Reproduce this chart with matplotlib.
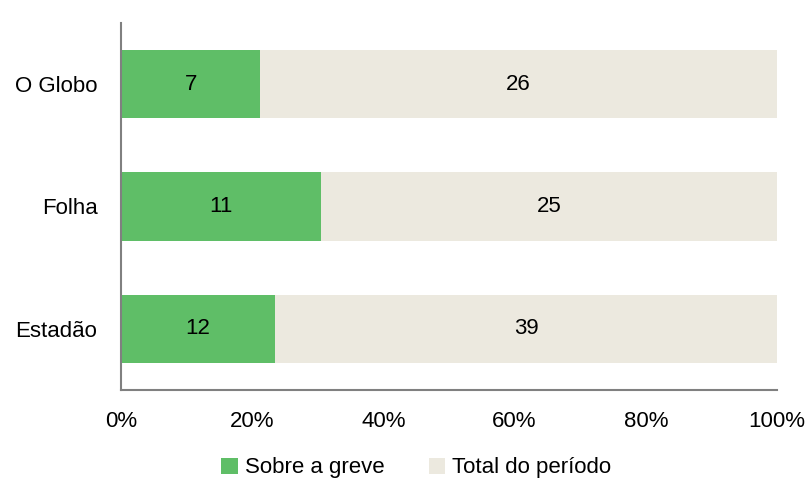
import numpy as np
import matplotlib.pyplot as plt
import matplotlib as mpl
from matplotlib.ticker import FuncFormatter
mpl.rcParams["font.family"] = ["Liberation Sans", "DejaVu Sans"]

# data
jornais = ["Estadão", "Folha", "O Globo"]
sobre_greve = [12, 11, 7]
total_periodo = [39, 25, 26]

greve = np.array(sobre_greve, dtype=float)
total = np.array(total_periodo, dtype=float)
soma = greve + total
p_greve = greve / soma
p_total = total / soma

fs = 16
fig = plt.figure(figsize=(8.08, 4.78), dpi=100)
ax = fig.add_axes([121/808, 1 - 390/478, (777 - 121)/808, (390 - 23)/478])

y = np.arange(len(jornais))
b1 = ax.barh(y, p_greve, height=0.56, color="#5fbe67", label="Sobre a greve")
b2 = ax.barh(y, p_total, left=p_greve, height=0.56, color="#ece9df", label="Total do período")

# values written in the middle of each segment
for i in range(len(jornais)):
    ax.text(p_greve[i]/2, y[i], str(sobre_greve[i]), ha="center", va="center", fontsize=fs)
    ax.text(p_greve[i] + p_total[i]/2, y[i], str(total_periodo[i]), ha="center", va="center", fontsize=fs)

ax.set_xlim(0, 1)
ax.set_ylim(-0.5, 2.5)
ax.set_yticks(y)
ax.set_yticklabels(jornais, fontsize=fs)
ax.set_xticks(np.linspace(0, 1, 6))
ax.xaxis.set_major_formatter(FuncFormatter(lambda v, p: f"{v*100:.0f}%"))
ax.tick_params(axis="x", length=0, labelsize=fs, pad=15)
ax.tick_params(axis="y", length=0, pad=17)
for s in ["top", "right"]:
    ax.spines[s].set_visible(False)
for s in ["left", "bottom"]:
    ax.spines[s].set_color("#808080")
    ax.spines[s].set_linewidth(1.5)

fig.legend(handles=[b1, b2], loc="center", bbox_to_anchor=(0.515, 1 - 468/478), ncol=2,
           frameon=False, fontsize=fs, handlelength=0.75, handleheight=0.75,
           handletextpad=0.3, columnspacing=2.0)

fig.savefig("out.png", dpi=100)
